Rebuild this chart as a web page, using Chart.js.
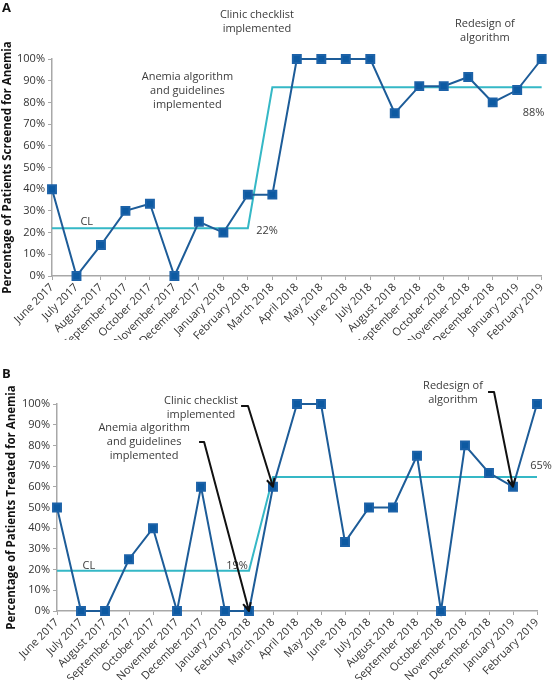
<!DOCTYPE html>
<html><head><meta charset="utf-8">
<script src="https://cdn.jsdelivr.net/npm/chart.js@4/dist/chart.umd.min.js"></script>
<style>
body{margin:0;background:#fff;}
.panel{position:absolute;left:0;width:552px;height:340px;overflow:hidden;}
#pa{top:0px} #pb{top:340px}
</style></head><body>
<div class="panel" id="pa"><canvas id="ca" width="552" height="340"></canvas></div>
<div class="panel" id="pb"><canvas id="cb" width="552" height="340"></canvas></div>
<script>
const months = ["June 2017","July 2017","August 2017","September 2017","October 2017","November 2017","December 2017","January 2018","February 2018","March 2018","April 2018","May 2018","June 2018","July 2018","August 2018","September 2018","October 2018","November 2018","December 2018","January 2019","February 2019"];
const screened = [40,0,14.3,30,33.3,0,25,20,37.5,37.5,100,100,100,100,75,87.5,87.5,91.7,80,85.7,100];
const screenedCL = [22,22,22,22,22,22,22,22,22,87,87,87,87,87,87,87,87,87,87,87,87];
const treated = [50,0,0,25,40,0,60,0,0,60,100,100,33.3,50,50,75,0,80,66.7,60,100];
const treatedCL = [19.5,19.5,19.5,19.5,19.5,19.5,19.5,19.5,19.5,64.7,64.7,64.7,64.7,64.7,64.7,64.7,64.7,64.7,64.7,64.7,64.7];
const yTickValues = [0,10,20,30,40,50,60,70,80,90,100];

// annotation text anchored in data space (category index, value)
const notesA = [
  {lines:["Clinic checklist","implemented"], x:8.37, y:120.3},
  {lines:["Anemia algorithm","and guidelines","implemented"], x:5.53, y:91.7},
  {lines:["Redesign of","algorithm"], x:17.68, y:116.1},
  {lines:["CL"], x:1.42, y:24.9},
  {lines:["22%"], x:8.78, y:20.7},
  {lines:["88%"], x:19.67, y:75.1}
];
const notesB = [
  {lines:["Clinic checklist","implemented"], x:6.0, y:101.4},
  {lines:["Anemia algorithm","and guidelines","implemented"], x:3.63, y:88.4},
  {lines:["Redesign of","algorithm"], x:16.5, y:108.7},
  {lines:["CL"], x:1.33, y:21.7},
  {lines:["19%"], x:7.5, y:21.7},
  {lines:["65%"], x:20.17, y:70}
];
// arrows: start, bend, tip (category index, value)
const arrowsB = [
  {pts:[[5.92,81.6],[6.13,81.6],[8,0]]},
  {pts:[[7.67,99],[7.96,99],[9,60]]},
  {pts:[[17.96,105.8],[18.21,105.8],[19,60]]}
];

function notesPlugin(notes, arrows, letter, letterY){
  return {id:'notes', afterDraw(chart){
    const ctx = chart.ctx, xs = chart.scales.x, ys = chart.scales.y;
    ctx.save();
    ctx.font = '11px "Open Sans"';
    ctx.fillStyle = '#3b3b3b';
    ctx.textAlign = 'center';
    ctx.textBaseline = 'middle';
    notes.forEach(n => {
      const px = xs.getPixelForValue(n.x), py = ys.getPixelForValue(n.y);
      n.lines.forEach((l,i) => ctx.fillText(l, px, py + i*14));
    });
    ctx.strokeStyle = '#111';
    ctx.lineWidth = 2;
    ctx.lineJoin = 'round';
    arrows.forEach(a => {
      const p = a.pts.map(q => [xs.getPixelForValue(q[0]), ys.getPixelForValue(q[1])]);
      ctx.beginPath();
      ctx.moveTo(p[0][0], p[0][1]);
      for (let i=1;i<p.length;i++) ctx.lineTo(p[i][0], p[i][1]);
      ctx.stroke();
      const t = p[p.length-1], b = p[p.length-2];
      const ang = Math.atan2(t[1]-b[1], t[0]-b[0]);
      const L = 9, sp = 0.45;
      ctx.beginPath();
      ctx.moveTo(t[0] - L*Math.cos(ang-sp), t[1] - L*Math.sin(ang-sp));
      ctx.lineTo(t[0], t[1]);
      ctx.lineTo(t[0] - L*Math.cos(ang+sp), t[1] - L*Math.sin(ang+sp));
      ctx.stroke();
    });
    ctx.font = 'bold 13px "Open Sans"';
    ctx.fillStyle = '#111';
    ctx.textAlign = 'left';
    ctx.textBaseline = 'top';
    ctx.fillText(letter, 2, letterY);
    ctx.restore();
  }};
}

function makeChart(id, values, cl, title, notes, arrows, letter, letterY, geo){
  return new Chart(document.getElementById(id), {
    type:'line',
    data:{labels:months, datasets:[
      {data:values, borderColor:'#1d5c98', backgroundColor:'#0d5aa2', pointBorderColor:'#1c62a8', pointBackgroundColor:'#0d5aa2',
       borderWidth:2, pointStyle:'rect', pointRadius:5.6, pointHoverRadius:5.6, tension:0, order:1, clip:false},
      {data:cl, borderColor:'#35b8c6', borderWidth:2, pointRadius:0, tension:0, order:2, clip:false}
    ]},
    options:{
      responsive:false, animation:false,
      layout:{padding:{top:geo.top, right:geo.right, left:0, bottom:0}},
      plugins:{legend:{display:false}, tooltip:{enabled:false}},
      scales:{
        x:{
          offset:false,
          grid:{display:true, drawOnChartArea:false, drawTicks:true, tickLength:4, color:'#a8a8a8'},
          border:{display:true, color:'#a8a8a8', width:1.5},
          ticks:{color:'#333', font:{family:'"Open Sans"', size:11}, minRotation:45, maxRotation:45, autoSkip:false, padding:1},
          afterFit(s){ s.height = geo.xh; }
        },
        y:{
          min:0, max:100,
          afterBuildTicks(s){ s.ticks = yTickValues.map(v => ({value:v})); },
          grid:{display:true, drawOnChartArea:false, drawTicks:true, tickLength:4, color:'#a8a8a8'},
          border:{display:true, color:'#a8a8a8', width:1.5},
          ticks:{color:'#333', font:{family:'"Open Sans"', size:11}, padding:3, callback:v => v + '%'},
          title:{display:true, text:title, color:'#111', font:{family:'"Open Sans"', size:11.5, weight:'bold'}, padding:{top:geo.tp, bottom:0}},
          afterFit(s){ s.width = geo.yw; }
        }
      }
    },
    plugins:[notesPlugin(notes, arrows, letter, letterY)]
  });
}

makeChart('ca', screened, screenedCL, 'Percentage of Patients Screened for Anemia', notesA, [], 'A', 2,
  {top:59, right:8, xh:64, yw:52, tp:1});
makeChart('cb', treated, treatedCL, 'Percentage of Patients Treated for Anemia', notesB, arrowsB, 'B', 28,
  {top:64, right:15, xh:69, yw:57, tp:5});
</script>
</body></html>
